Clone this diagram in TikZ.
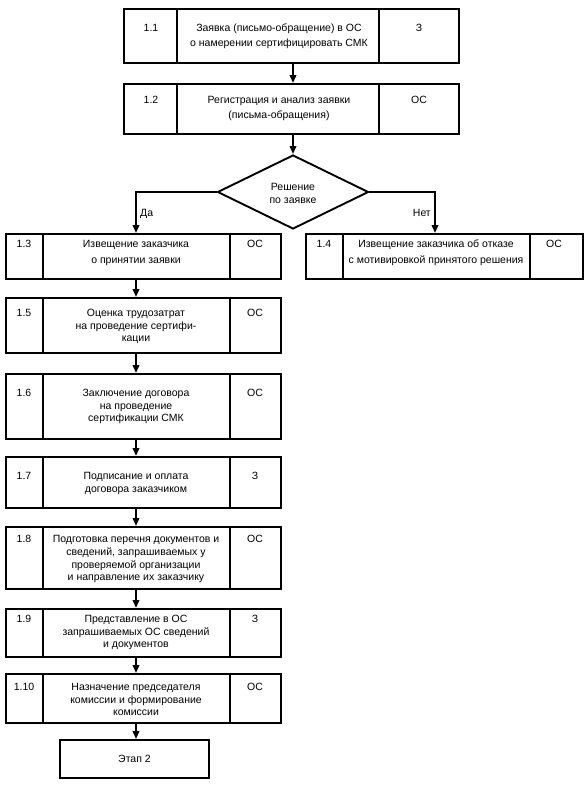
\documentclass[tikz,border=0pt]{standalone}
\usepackage{fontspec}
\setmainfont{Liberation Sans}
\usetikzlibrary{arrows.meta,shapes.geometric,calc}
\begin{document}
\begin{tikzpicture}[x=1pt,y=-1pt,
  lw/.style={line width=1.9pt},
  box/.style={draw,line width=1.9pt,inner sep=0pt,anchor=north west},
  sep/.style={line width=1.9pt},
  arr/.style={line width=1.9pt,-{Triangle[length=8pt,width=6.5pt]}},
  txt/.style={inner sep=0pt,align=center,anchor=north,font=\fontsize{10.5}{#1}\selectfont},
  lab/.style={inner sep=0pt,anchor=base,font=\fontsize{10.5}{13}\selectfont},
]
\useasboundingbox (0,0) rectangle (587,785);
\coordinate (cl) at (136,0);
\coordinate (cr) at (435,0);
\coordinate (ct) at (293,0);

% 1.1
\node[box,minimum width=335pt,minimum height=54pt] (b11) at (123,8) {};
\draw[sep] (177,8) -- (177,62) (379,8) -- (379,62);
\node[lab] (n11) at (151,31.5) {1.1};
\node[txt=15] (t11) at (279,21) {\strut Заявка (письмо-обращение) в ОС\\о намерении сертифицировать СМК};
\node[lab] (r11) at (419,31.5) {З};

% 1.2
\node[box,minimum width=335pt,minimum height=50pt] (b12) at (123,83) {};
\draw[sep] (177,83) -- (177,133) (379,83) -- (379,133);
\node[lab] (n12) at (151,103.5) {1.2};
\node[txt=15] (t12) at (279,93) {\strut Регистрация и анализ заявки\\(письма-обращения)};
\node[lab] (r12) at (419,103.5) {ОС};

% decision
\node[draw,lw,shape=diamond,inner sep=0pt,minimum width=151pt,minimum height=74pt] (d) at (293,192) {};
\node[txt=13] (td) at (293,181.4) {\strut Решение\\по заявке};

% 1.3
\node[box,minimum width=275pt,minimum height=45pt] (b13) at (5,233) {};
\draw[sep] (43,233) -- (43,278) (230,233) -- (230,278);
\node[lab] (n13) at (24,247.5) {1.3};
\node[txt=16] (t13) at (136,236.3) {\strut Извещение заказчика\\о принятии заявки};
\node[lab] (r13) at (255,247.5) {ОС};

% 1.4
\node[box,minimum width=277pt,minimum height=45pt] (b14) at (305,233) {};
\draw[sep] (343,233) -- (343,278) (530,233) -- (530,278);
\node[lab] (n14) at (324,247.5) {1.4};
\node[txt=16] (t14) at (436,236.3) {\strut Извещение заказчика об отказе\\с мотивировкой принятого решения};
\node[lab] (r14) at (554,247.5) {ОС};

% 1.5
\node[box,minimum width=275pt,minimum height=55pt] (b15) at (5,297) {};
\draw[sep] (43,297) -- (43,352) (230,297) -- (230,352);
\node[lab] (n15) at (24,316.5) {1.5};
\node[txt=12.5] (t15) at (136,307.75) {\strut Оценка трудозатрат\\на проведение сертифи-\\кации};
\node[lab] (r15) at (255,316.5) {ОС};

% 1.6
\node[box,minimum width=275pt,minimum height=65pt] (b16) at (5,373) {};
\draw[sep] (43,373) -- (43,438) (230,373) -- (230,438);
\node[lab] (n16) at (24,396.5) {1.6};
\node[txt=12.5] (t16) at (136,387.75) {\strut Заключение договора\\на проведение\\сертификации СМК};
\node[lab] (r16) at (255,396.5) {ОС};

% 1.7
\node[box,minimum width=275pt,minimum height=51pt] (b17) at (5,456) {};
\draw[sep] (43,456) -- (43,507) (230,456) -- (230,507);
\node[lab] (n17) at (24,479.5) {1.7};
\node[txt=13] (t17) at (136,470.4) {\strut Подписание и оплата\\договора заказчиком};
\node[lab] (r17) at (255,479.5) {З};

% 1.8
\node[box,minimum width=275pt,minimum height=62pt] (b18) at (5,526) {};
\draw[sep] (43,526) -- (43,588) (230,526) -- (230,588);
\node[lab] (n18) at (24,542.5) {1.8};
\node[txt=12.7] (t18) at (136,533.6) {\strut Подготовка перечня документов и\\сведений, запрашиваемых у\\проверяемой организации\\и направление их заказчику};
\node[lab] (r18) at (255,542.5) {ОС};

% 1.9
\node[box,minimum width=275pt,minimum height=48pt] (b19) at (5,608) {};
\draw[sep] (43,608) -- (43,656) (230,608) -- (230,656);
\node[lab] (n19) at (24,622.5) {1.9};
\node[txt=12.5] (t19) at (136,613.75) {\strut Представление в ОС\\запрашиваемых ОС сведений\\и документов};
\node[lab] (r19) at (255,622.5) {З};

% 1.10
\node[box,minimum width=275pt,minimum height=49pt] (b110) at (5,673) {};
\draw[sep] (43,673) -- (43,722) (230,673) -- (230,722);
\node[lab] (n110) at (24,690.5) {1.10};
\node[txt=12.5] (t110) at (136,681.75) {\strut Назначение председателя\\комиссии и формирование\\комиссии};
\node[lab] (r110) at (255,690.5) {ОС};

% Этап 2
\node[draw,lw,inner sep=0pt,minimum width=149pt,minimum height=38pt,font=\fontsize{10.5}{13}\selectfont] (e2) at (134.5,759) {Этап 2};

% connectors
\draw[arr] (b11.south -| ct) -- (b12.north -| ct);
\draw[arr] (b12.south -| ct) -- (d.north);
\draw[arr] (d.west) -| (b13.north -| cl);
\draw[arr] (d.east) -| (b14.north -| cr);
\node[lab,anchor=base west] (yes) at (140,216.5) {Да};
\node[lab,anchor=base east] (no) at (431,216.5) {Нет};
\draw[arr] (b13.south -| cl) -- (b15.north -| cl);
\draw[arr] (b15.south -| cl) -- (b16.north -| cl);
\draw[arr] (b16.south -| cl) -- (b17.north -| cl);
\draw[arr] (b17.south -| cl) -- (b18.north -| cl);
\draw[arr] (b18.south -| cl) -- (b19.north -| cl);
\draw[arr] (b19.south -| cl) -- (b110.north -| cl);
\draw[arr] (b110.south -| cl) -- (e2.north -| cl);
\end{tikzpicture}
\end{document}
